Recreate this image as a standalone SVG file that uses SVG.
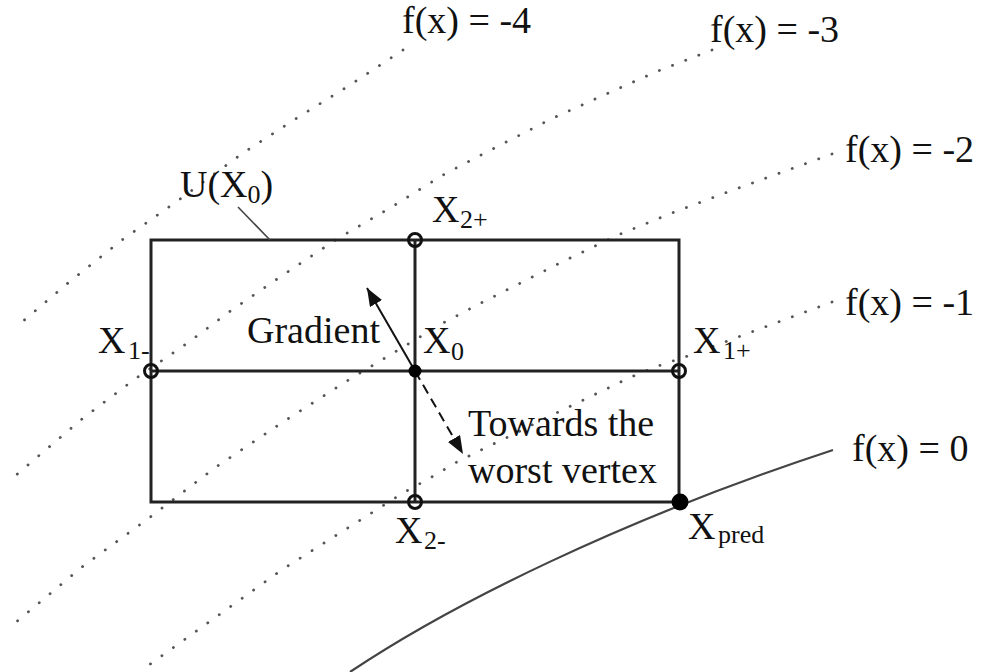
<svg xmlns="http://www.w3.org/2000/svg" width="985" height="672" viewBox="0 0 985 672">
<style>
  .lbl { font-family: "Liberation Serif", "Times New Roman", serif; font-size: 38px; fill: #111; }
  .sub { font-size: 26px; }
  .dot { fill: none; stroke: #555; stroke-width: 2.8; stroke-linecap: round; stroke-dasharray: 0.1 14; }
  .box { fill: none; stroke: #222; stroke-width: 3; }
  .open { fill: none; stroke: #111; stroke-width: 3; }
  .solid { fill: #000; }
</style>
<defs>
  <marker id="ah" viewBox="0 0 18 14" refX="18" refY="7" markerWidth="18" markerHeight="14" markerUnits="userSpaceOnUse" orient="auto">
    <path d="M0,0 L18,7 L0,14 z" fill="#111"/>
  </marker>
</defs>
<rect width="985" height="672" fill="#fff"/>

<g id="level-curves">
  <path class="dot" d="M403,50 L350,85 L297,118 L243,153 L176,202 L122,240 L68,283 L15,328"/>
  <path class="dot" d="M712,50 L658,71 L604,95 L551,119 L483,154 L443,175 L390,208 L337,239 L283,275 L229,312 L189,342 L135,379 L82,419 L15,476"/>
  <path class="dot" d="M832,154 L725,193 L672,213 L618,235 L564,261 L483,302 L443,323 L390,355 L350,379 L283,422 L216,467 L149,518 L82,567 L15,623"/>
  <path class="dot" d="M832,302 L738,337 L685,357 L658,366 L631,377 L604,390 L577,403 L550,416 L510,436 L483,449 L457,462 L430,478 L403,493 L283,569 L216,617 L149,665"/>
  <path d="M350,672 C450,605 620,520 833,450" fill="none" stroke="#444" stroke-width="2.2"/>
</g>

<g id="neighbourhood">
  <rect class="box" x="151" y="240" width="528" height="262"/>
  <line class="box" x1="415" y1="240" x2="415" y2="502"/>
  <line class="box" x1="151" y1="371" x2="679" y2="371"/>
  <line x1="238" y1="207" x2="270" y2="240" stroke="#444" stroke-width="1.6"/>
</g>

<g id="connectors">
  <line x1="415" y1="371" x2="367" y2="288" stroke="#111" stroke-width="2" marker-end="url(#ah)"/>
  <line x1="415" y1="371" x2="463" y2="454" stroke="#111" stroke-width="2" stroke-dasharray="10 6" marker-end="url(#ah)"/>
</g>

<g id="node-X2plus"><circle class="open" cx="415" cy="240" r="6.5"/></g>
<g id="node-X1minus"><circle class="open" cx="151" cy="371" r="6.5"/></g>
<g id="node-X1plus"><circle class="open" cx="679" cy="371" r="6.5"/></g>
<g id="node-X2minus"><circle class="open" cx="415" cy="502" r="6.5"/></g>
<g id="node-X0"><circle class="solid" cx="415" cy="371" r="6.5"/></g>
<g id="node-Xpred"><circle class="solid" cx="680" cy="502" r="8.5"/></g>

<g id="labels">
  <text class="lbl" x="402" y="33">f(x) = -4</text>
  <text class="lbl" x="710" y="42">f(x) = -3</text>
  <text class="lbl" x="845" y="162">f(x) = -2</text>
  <text class="lbl" x="845" y="315">f(x) = -1</text>
  <text class="lbl" x="852" y="461">f(x) = 0</text>
  <text class="lbl" x="180" y="197">U(X<tspan class="sub" dy="6">0</tspan><tspan dy="-6">)</tspan></text>
  <text class="lbl" x="247" y="343">Gradient</text>
  <text class="lbl"><tspan x="423" y="353">X</tspan><tspan class="sub" x="451" y="360">0</tspan></text>
  <text class="lbl"><tspan x="432" y="222">X</tspan><tspan class="sub" x="460" y="228">2+</tspan></text>
  <text class="lbl"><tspan x="98" y="353">X</tspan><tspan class="sub" x="128" y="359">1-</tspan></text>
  <text class="lbl"><tspan x="693" y="353">X</tspan><tspan class="sub" x="723" y="359">1+</tspan></text>
  <text class="lbl"><tspan x="395" y="543">X</tspan><tspan class="sub" x="424" y="549">2-</tspan></text>
  <text class="lbl"><tspan x="688" y="539">X</tspan><tspan class="sub" x="718" y="543">pred</tspan></text>
  <text class="lbl" x="468" y="436">Towards the</text>
  <text class="lbl" x="468" y="483">worst vertex</text>
</g>
</svg>
